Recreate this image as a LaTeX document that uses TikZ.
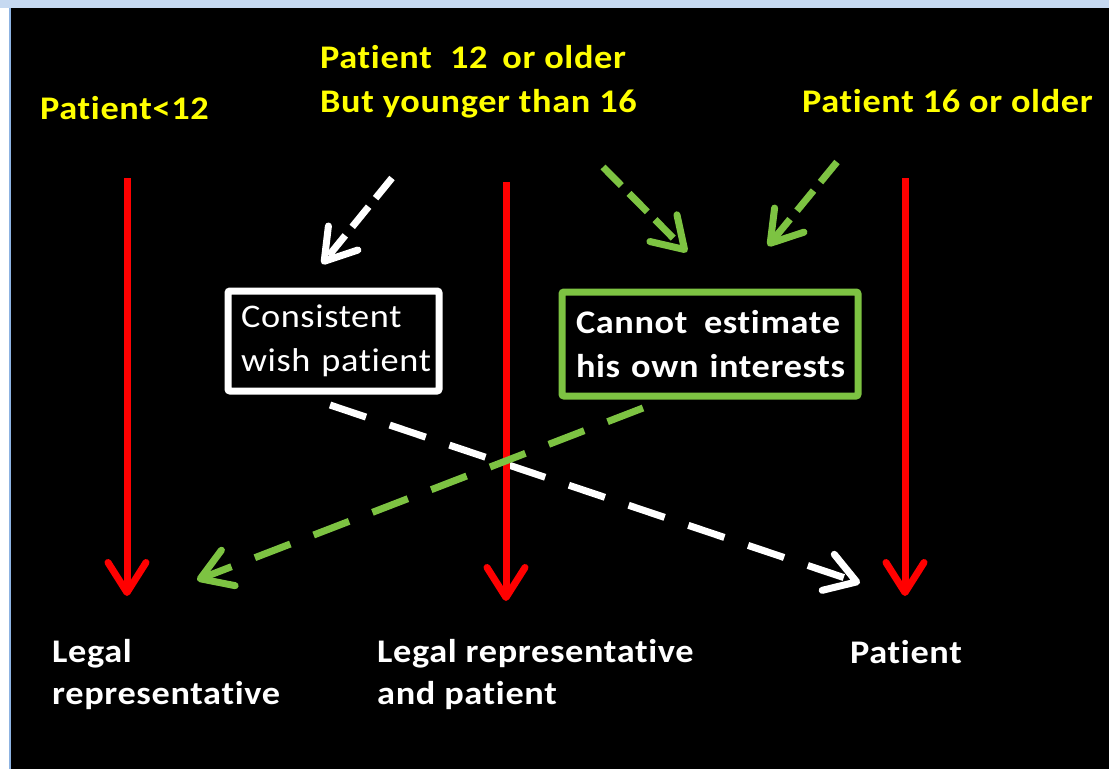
\documentclass[tikz,border=0pt]{standalone}
\usepackage{fontspec}
\setmainfont{Carlito}[Ligatures=NoCommon, FakeStretch=1.1, LetterSpace=2]
\usetikzlibrary{arrows.meta}
\definecolor{bandblue}{RGB}{198,217,241}
\definecolor{edgeblue}{RGB}{141,179,226}
\definecolor{lgreen}{RGB}{125,195,66}
\definecolor{fgyellow}{RGB}{255,255,0}
\definecolor{fgred}{RGB}{255,0,0}
\begin{document}
\begin{tikzpicture}[x=1pt,y=-1pt,
  lbl/.style={font=\fontsize{33}{44}\selectfont\bfseries, inner sep=0pt, anchor=base west, align=left},
  ylbl/.style={lbl, text=fgyellow},
  wlbl/.style={lbl, text=white, font=\fontsize{33}{42}\selectfont\bfseries},
  tipA/.style={-{Straight Barb[length=30pt,width=38pt,round]}},
  redarrow/.style={draw=fgred, line width=7pt, tipA},
  shortdash/.style={line width=7pt, dash pattern=on 26pt off 11pt, tipA},
  longdash/.style={line width=7pt, dash pattern=on 38pt off 25pt, tipA},
  boxstyle/.style={line width=7pt, rounded corners=2pt, align=left, inner ysep=0pt, text=white}
]
\useasboundingbox (0,0) rectangle (1109,769);
\fill[bandblue] (0,0) rectangle (1109,8);
\fill[white] (0,8) rectangle (9,769);
\fill[edgeblue] (9,8) rectangle (11,769);
\fill[black] (11,8) rectangle (1109,769);

% labels (base anchor of a multi-line node = baseline of its last line)
\node[ylbl] (p12) at (40,119) {Patient<12};
\node[ylbl] (p1216) at (320,112) {Patient\hspace{0.55em}12\hspace{0.45em}or older\\But younger than 16};
\node[ylbl] (p16) at (802,112) {Patient 16 or older};
\node[wlbl] (lr) at (52,704) {Legal\\representative};
\node[wlbl] (lrp) at (377,704) {Legal representative\\and patient};
\node[wlbl] (pt) at (850,663) {Patient};

% boxes
\node[boxstyle, draw=white, minimum width=211pt, minimum height=100pt, text width=185pt, inner xsep=13pt,
  font=\fontsize{33}{44}\selectfont] (cw) at (333.5,341) {\mbox{Consistent}\\\mbox{wish patient}};
\node[boxstyle, draw=lgreen, minimum width=296pt, minimum height=104pt, text width=268pt, inner xsep=14pt,
  font=\fontsize{33}{44}\selectfont\bfseries] (ce) at (710,344) {\mbox{Cannot\hspace{0.5em}estimate}\\\mbox{his own interests}};

% arrow end points
\coordinate (r1s) at (127,178); \coordinate (r1e) at (127,596);
\coordinate (r2s) at (506,182); \coordinate (r2e) at (506,601);
\coordinate (r3s) at (905,178); \coordinate (r3e) at (905,596);
\coordinate (ws) at (392,178); \coordinate (we) at (322,264);
\coordinate (g1s) at (603,167); \coordinate (g1e) at (687,252);
\coordinate (g2s) at (837,162); \coordinate (g2e) at (768,246);
\coordinate (wls) at (330,405); \coordinate (wle) at (860,583);
\coordinate (gls) at (643,408); \coordinate (gle) at (197,580);

\draw[shortdash, draw=white] (ws) -- (we);
\draw[shortdash, draw=lgreen] (g1s) -- (g1e);
\draw[shortdash, draw=lgreen] (g2s) -- (g2e);
\draw[longdash, draw=white] (wls) -- (wle);
\draw[redarrow] (r1s) -- (r1e);
\draw[redarrow] (r2s) -- (r2e);
\draw[redarrow] (r3s) -- (r3e);
\draw[longdash, draw=lgreen] (gls) -- (gle);
\end{tikzpicture}
\end{document}
